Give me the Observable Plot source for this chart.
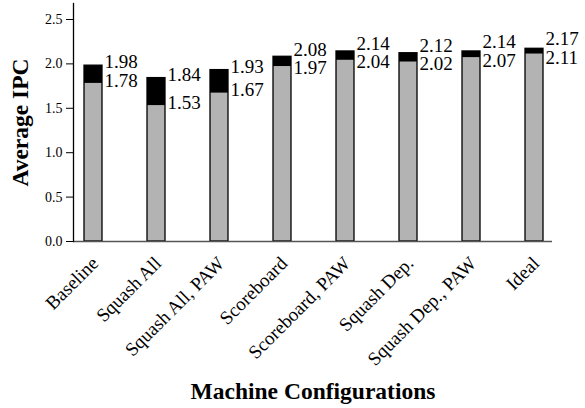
<!DOCTYPE html>
<html>
<head>
<meta charset="utf-8">
<script src="https://cdn.jsdelivr.net/npm/d3@7"></script>
<script src="https://cdn.jsdelivr.net/npm/@observablehq/plot@0.6"></script>
<style>
  html, body { margin: 0; padding: 0; background: white; }
</style>
</head>
<body>
<div id="chart"></div>
<script>
const categories = ["Baseline", "Squash All", "Squash All, PAW", "Scoreboard", "Scoreboard, PAW", "Squash Dep.", "Squash Dep., PAW", "Ideal"];
const lowerIPC = [1.78, 1.53, 1.67, 1.97, 2.04, 2.02, 2.07, 2.11];
const upperIPC = [1.98, 1.84, 1.93, 2.08, 2.14, 2.12, 2.14, 2.17];
const yTicks = [0, 0.5, 1.0, 1.5, 2.0, 2.5];
const yLabel = "Average IPC";
const xLabel = "Machine Configurations";

const W = 585, H = 408;
const mL = 73, mR = 33, mT = 3, mB = 167;
const yMax = 2.68;
const ppu = (H - mT - mB) / yMax;
const gap = 18.5 / ppu;

const rows = categories.map((c, i) => {
  const lo = lowerIPC[i], hi = upperIPC[i];
  let yHi = hi, yLo = lo;
  if (hi - lo < gap) {
    const mid = (hi + lo) / 2;
    yHi = mid + gap / 2;
    yLo = mid - gap / 2;
  }
  return {c, lo, hi, yHi, yLo};
});

const chart = Plot.plot({
  width: W,
  height: H,
  marginLeft: mL,
  marginRight: mR,
  marginTop: mT,
  marginBottom: mB,
  style: {fontFamily: "'Liberation Serif', 'Times New Roman', serif", background: "white", color: "black"},
  x: {type: "band", domain: categories, range: [84, 546], paddingInner: 0.716, paddingOuter: 0, align: 0, axis: null},
  y: {domain: [0, yMax], axis: null},
  marks: [
    Plot.barY(rows, {x: "c", y1: 0, y2: "lo", fill: "#b3b3b3"}),
    Plot.barY(rows, {x: "c", y1: "lo", y2: "hi", fill: "black"}),
    Plot.barY(rows, {x: "c", y1: 0, y2: "hi", fill: "none", stroke: "black", strokeWidth: 1.3}),
    Plot.ruleY([0], {stroke: "#555", strokeWidth: 1.3}),
    Plot.axisY({ticks: yTicks, tickFormat: d3.format(".1f"), tickSize: 7, tickPadding: 4, fontSize: 14, label: null, anchor: "left"}),
    Plot.frame({anchor: "left", stroke: "black", strokeWidth: 1.3}),
    Plot.text(rows, {x: "c", y: "yHi", text: d => d.hi.toFixed(2), textAnchor: "start", dx: 11, dy: -3, fontSize: 19}),
    Plot.text(rows, {x: "c", y: "yLo", text: d => d.lo.toFixed(2), textAnchor: "start", dx: 11, dy: -3, fontSize: 19}),
    Plot.text(rows, {x: "c", text: "c", frameAnchor: "bottom", rotate: -45, textAnchor: "end", lineAnchor: "bottom", dx: 6, dy: 23, fontSize: 19}),
    Plot.text([yLabel], {text: d => d, frameAnchor: "left", rotate: -90, textAnchor: "middle", lineAnchor: "bottom", dx: -46, fontSize: 23.5, fontWeight: "bold"}),
    Plot.text([xLabel], {text: d => d, frameAnchor: "bottom", textAnchor: "middle", lineAnchor: "bottom", dy: 157, fontSize: 23.5, fontWeight: "bold"})
  ]
});

document.getElementById("chart").appendChild(chart);
</script>
</body>
</html>
